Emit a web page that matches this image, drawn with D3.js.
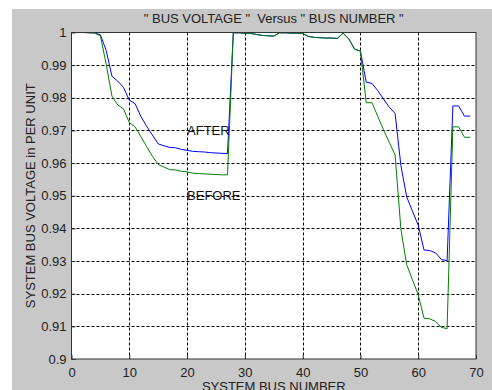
<!DOCTYPE html>
<html>
<head>
<meta charset="utf-8">
<script src="https://cdn.jsdelivr.net/npm/d3@7"></script>
<style>
  html, body { margin: 0; padding: 0; background: #fff; }
  text { font-family: "Liberation Sans", Arial, sans-serif; }
</style>
</head>
<body>
<svg id="chart" width="492" height="390"></svg>
<script>
// bus numbers 1..69
const busNumbers = d3.range(1, 70);

// voltage profile after (blue)
const afterVoltage = [
  1.0, 1.0, 0.99995, 0.9999, 0.9993, 0.9945, 0.9866, 0.9851, 0.9832, 0.9793,
  0.9782, 0.9743, 0.9713, 0.9686, 0.9659, 0.9653, 0.9648, 0.9647, 0.9642, 0.9639,
  0.9636, 0.9635, 0.9634, 0.9632, 0.9631, 0.9630, 0.9629, 0.9999, 0.9999, 0.9998,
  0.9997, 0.9994, 0.9991, 0.9990, 0.9989, 0.9999, 0.9999, 0.9998, 0.9998, 0.9997,
  0.9988, 0.9985, 0.9984, 0.9983, 0.9983, 0.9982, 0.9998, 0.9980, 0.9949, 0.9943,
  0.9848, 0.9844, 0.9822, 0.9796, 0.9771, 0.9752, 0.9593, 0.9497, 0.9453, 0.9410,
  0.9334, 0.9332, 0.9325, 0.9305, 0.9301, 0.9775, 0.9775, 0.9744, 0.9744
];

// voltage profile before (green)
const beforeVoltage = [
  1.0, 1.0, 0.9999, 0.9998, 0.9990, 0.9903, 0.9805, 0.9778, 0.9766, 0.9724,
  0.9711, 0.9681, 0.9651, 0.9621, 0.9596, 0.9588, 0.9580, 0.9579, 0.9575, 0.9573,
  0.9569, 0.9568, 0.9567, 0.9566, 0.9565, 0.9564, 0.9564, 0.9999, 0.9999, 0.9998,
  0.9997, 0.9994, 0.9991, 0.9990, 0.9989, 0.9999, 0.9999, 0.9998, 0.9998, 0.9997,
  0.9988, 0.9985, 0.9984, 0.9983, 0.9983, 0.9982, 0.9998, 0.9980, 0.9949, 0.9943,
  0.9785, 0.9785, 0.9743, 0.9702, 0.9663, 0.9625, 0.9398, 0.9289, 0.9243, 0.9197,
  0.9125, 0.9123, 0.9115, 0.9097, 0.9093, 0.9711, 0.9711, 0.9679, 0.9679
];

const xTicks = [0, 10, 20, 30, 40, 50, 60, 70];
const yTicks = [0.9, 0.91, 0.92, 0.93, 0.94, 0.95, 0.96, 0.97, 0.98, 0.99, 1];
const yTickLabels = ['0.9', '0.91', '0.92', '0.93', '0.94', '0.95', '0.96', '0.97', '0.98', '0.99', '1'];

const svg = d3.select('#chart');
const W = 492, H = 390;
const plot = { left: 71.5, right: 476, top: 32.5, bottom: 359 };

// figure background (grey panel)
svg.append('rect').attr('x', 12).attr('y', 9).attr('width', W - 12).attr('height', H - 9).attr('fill', '#c8c8c8');

const x = d3.scaleLinear().domain([0, 70]).range([plot.left, plot.right]);
const y = d3.scaleLinear().domain([0.9, 1]).range([plot.bottom, plot.top]);

// axes area
svg.append('rect')
  .attr('x', plot.left).attr('y', plot.top)
  .attr('width', plot.right - plot.left).attr('height', plot.bottom - plot.top)
  .attr('fill', '#fff');

// grid (dotted)
const grid = svg.append('g').attr('stroke', '#000').attr('stroke-width', 1).attr('stroke-dasharray', '3,2');
grid.selectAll('line.gx')
  .data(xTicks.slice(1, -1))
  .enter().append('line')
  .attr('x1', (d) => Math.round(x(d)) + 0.5).attr('x2', (d) => Math.round(x(d)) + 0.5)
  .attr('y1', plot.top).attr('y2', plot.bottom);
grid.selectAll('line.gy')
  .data(yTicks.slice(1, -1))
  .enter().append('line')
  .attr('y1', (d) => Math.round(y(d)) + 0.5).attr('y2', (d) => Math.round(y(d)) + 0.5)
  .attr('x1', plot.left).attr('x2', plot.right);

// lines
const line = d3.line().x((d) => x(d[0])).y((d) => y(d[1]));
svg.append('path')
  .datum(busNumbers.map((b, i) => [b, afterVoltage[i]]))
  .attr('d', line).attr('fill', 'none').attr('stroke', '#0000ff').attr('stroke-width', 1);
svg.append('path')
  .datum(busNumbers.map((b, i) => [b, beforeVoltage[i]]))
  .attr('d', line).attr('fill', 'none').attr('stroke', '#008000').attr('stroke-width', 1);

// box
svg.append('rect')
  .attr('x', plot.left).attr('y', plot.top)
  .attr('width', plot.right - plot.left).attr('height', plot.bottom - plot.top)
  .attr('fill', 'none').attr('stroke', '#333').attr('stroke-width', 1);

// axes with inward ticks
const xAxis = d3.axisBottom(x).tickValues(xTicks).tickSizeInner(-4).tickSizeOuter(0).tickPadding(9);
const yAxis = d3.axisLeft(y).tickValues(yTicks).tickFormat((d, i) => yTickLabels[i]).tickSizeInner(-4).tickSizeOuter(0).tickPadding(9);

const gx = svg.append('g').attr('transform', `translate(0,${plot.bottom})`).call(xAxis);
const gy = svg.append('g').attr('transform', `translate(${plot.left},0)`).call(yAxis);
[gx, gy].forEach((g) => {
  g.select('.domain').remove();
  g.selectAll('.tick line').attr('stroke', '#333');
  g.selectAll('.tick text').attr('fill', '#222').style('font-size', '13px').style('font-family', '"Liberation Sans", Arial, sans-serif');
});
gy.selectAll('.tick text').attr('x', -5);

// annotations
svg.append('text').attr('x', x(20)).attr('y', y(0.97)).attr('dy', '0.35em')
  .attr('font-size', 13).attr('fill', '#111').text('AFTER');
svg.append('text').attr('x', x(20)).attr('y', y(0.95)).attr('dy', '0.35em')
  .attr('font-size', 13).attr('fill', '#111').text('BEFORE');

// title and labels
svg.append('text').attr('x', (plot.left + plot.right) / 2).attr('y', 23)
  .attr('text-anchor', 'middle').attr('font-size', 13).attr('fill', '#222')
  .style('white-space', 'pre')
  .text('" BUS VOLTAGE "  Versus " BUS NUMBER "');
// axis label sits at the bottom edge, partly clipped as in the original figure
svg.append('text').attr('x', (plot.left + plot.right) / 2).attr('y', 391)
  .attr('text-anchor', 'middle').attr('font-size', 13).attr('fill', '#222')
  .text('SYSTEM BUS NUMBER');
svg.append('text')
  .attr('transform', `translate(35,${(plot.top + plot.bottom) / 2}) rotate(-90)`)
  .attr('text-anchor', 'middle').attr('font-size', 13).attr('fill', '#222')
  .text('SYSTEM BUS VOLTAGE in PER UNIT');
</script>
</body>
</html>
